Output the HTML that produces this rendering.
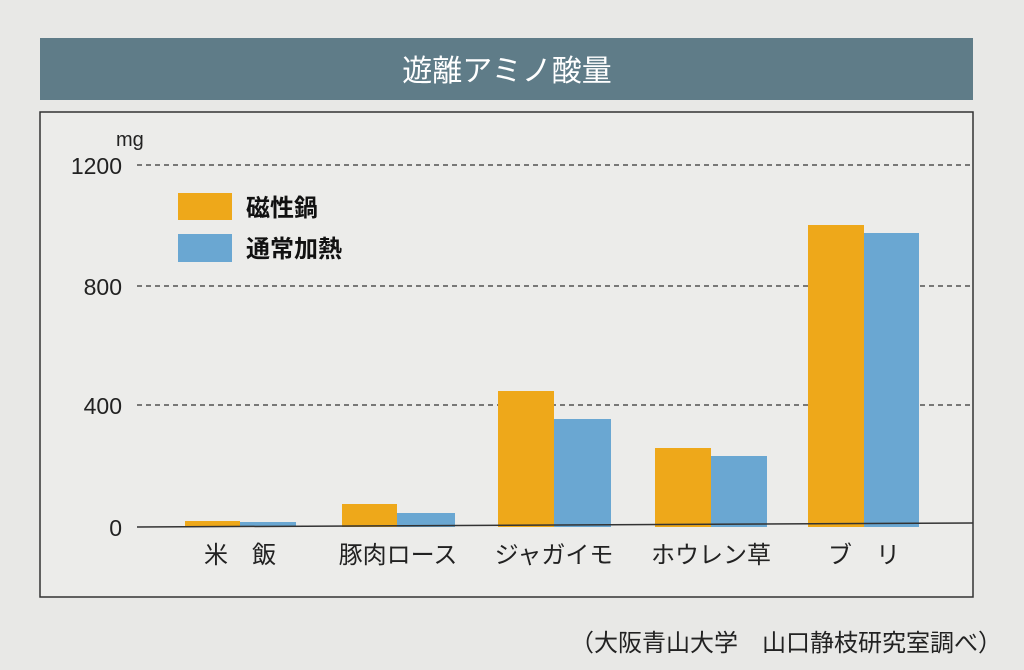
<!DOCTYPE html>
<html><head><meta charset="utf-8"><style>
body{margin:0;width:1024px;height:670px;background:#e9e9e7;overflow:hidden;font-family:"Liberation Sans","Noto Sans CJK JP",sans-serif;}
</style></head><body>
<svg width="1024" height="670" xmlns="http://www.w3.org/2000/svg" style="position:absolute;left:0;top:0">
<rect x="0" y="0" width="1024" height="670" fill="#e8e8e6"/>
<rect x="40" y="38" width="933" height="62" fill="#5f7c88"/>
<text x="507" y="81" font-size="30" fill="#fff" text-anchor="middle" font-family="Liberation Sans,Noto Sans CJK JP,sans-serif">遊離アミノ酸量</text>
<rect x="40" y="112" width="933" height="485" fill="#ececea" stroke="#333" stroke-width="1.5"/>
<g stroke="#333" stroke-width="1.3" stroke-dasharray="5,4">
<line x1="137" y1="165" x2="973" y2="165"/>
<line x1="137" y1="286" x2="973" y2="286"/>
<line x1="137" y1="405" x2="973" y2="405"/>
</g>
<g font-size="23" fill="#222" text-anchor="end" font-family="Liberation Sans,sans-serif">
<text x="122" y="174">1200</text><text x="122" y="295">800</text><text x="122" y="414">400</text><text x="122" y="536">0</text>
</g>
<text x="116" y="146" font-size="20" fill="#222">mg</text>
<g fill="#eea81a">
<rect x="185" y="521" width="55" height="6"/>
<rect x="342" y="504" width="55" height="23"/>
<rect x="498" y="391" width="56" height="136"/>
<rect x="655" y="448" width="56" height="79"/>
<rect x="808" y="225" width="56" height="302"/>
<rect x="178" y="193" width="54" height="27"/>
</g>
<g fill="#6aa7d2">
<rect x="240" y="522" width="56" height="5"/>
<rect x="397" y="513" width="58" height="14"/>
<rect x="554" y="419" width="57" height="108"/>
<rect x="711" y="456" width="56" height="71"/>
<rect x="864" y="233" width="55" height="294"/>
<rect x="178" y="234" width="54" height="28"/>
</g>
<line x1="137" y1="527" x2="973" y2="523" stroke="#333" stroke-width="1.5"/>
<g font-size="24" fill="#111" font-weight="bold">
<text x="246" y="216">磁性鍋</text><text x="246" y="257">通常加熱</text>
</g>
<g font-size="24" fill="#222" text-anchor="middle">
<text x="240" y="563">米　飯</text>
<text x="398" y="563">豚肉ロース</text>
<text x="554" y="563">ジャガイモ</text>
<text x="711" y="563">ホウレン草</text>
<text x="864" y="563">ブ　リ</text>
</g>
<text x="1002" y="651" font-size="24" fill="#222" text-anchor="end">（大阪青山大学　山口静枝研究室調べ）</text>
</svg>
</body></html>
